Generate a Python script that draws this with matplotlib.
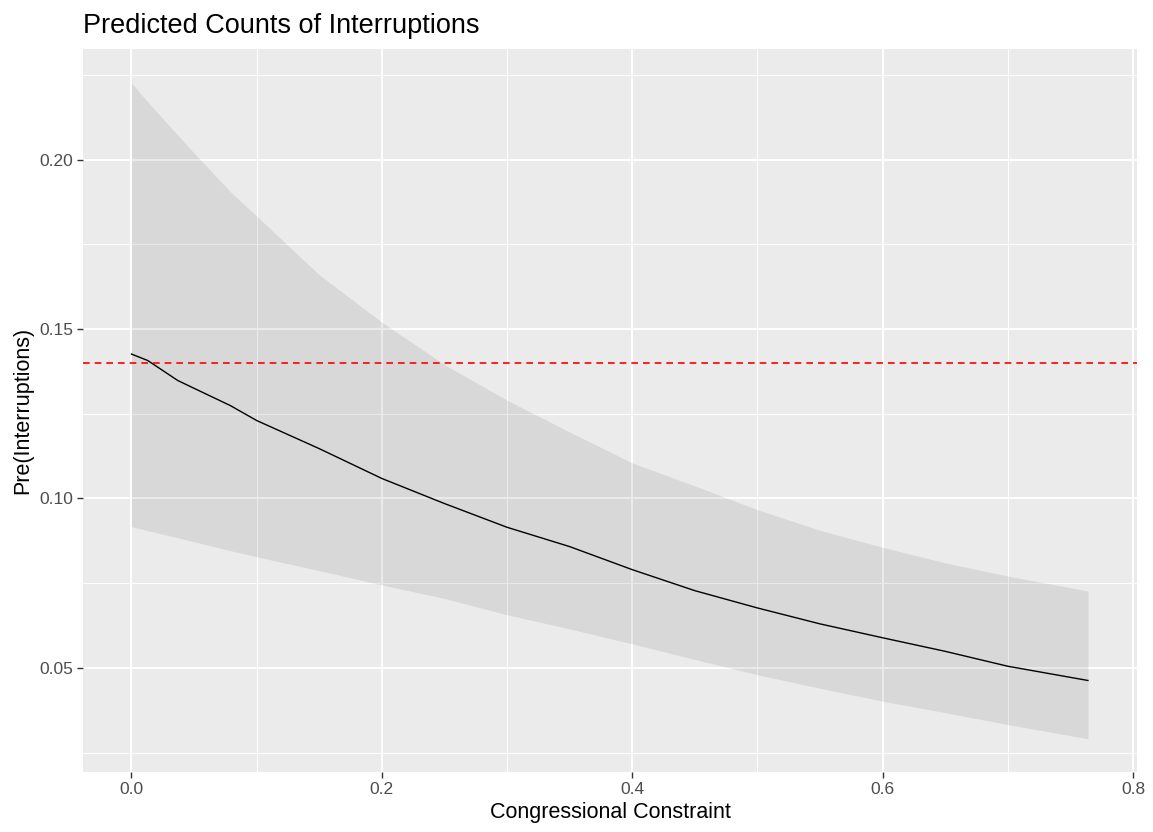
import matplotlib
matplotlib.use("Agg")
import matplotlib.pyplot as plt
import numpy as np

plt.rcParams['font.family'] = ['Liberation Sans', 'DejaVu Sans']

# predicted counts along congressional constraint, with confidence band
constraint = [0.0, 0.013, 0.037, 0.05, 0.079, 0.1, 0.15, 0.2, 0.25, 0.3, 0.35,
              0.4, 0.45, 0.5, 0.55, 0.6, 0.65, 0.7, 0.764]
fit = [0.1426, 0.1407, 0.1348, 0.1325, 0.1274, 0.1230, 0.1147, 0.1059, 0.0985,
       0.0915, 0.0858, 0.0790, 0.0728, 0.0677, 0.0630, 0.0589, 0.0549, 0.0505, 0.0463]
upper = [0.2226, 0.2170, 0.2072, 0.2019, 0.1905, 0.1833, 0.1660, 0.1520, 0.1395,
         0.1290, 0.1196, 0.1105, 0.1037, 0.0967, 0.0906, 0.0856, 0.0810, 0.0771, 0.0727]
lower = [0.0917, 0.0905, 0.0884, 0.0872, 0.0846, 0.0828, 0.0787, 0.0745, 0.0705,
         0.0657, 0.0615, 0.0571, 0.0525, 0.0480, 0.0440, 0.0402, 0.0368, 0.0333, 0.0291]
baseline = 0.14

x_ticks = [0.0, 0.2, 0.4, 0.6, 0.8]
y_ticks = [0.05, 0.10, 0.15, 0.20]

fig = plt.figure(figsize=(11.53, 8.32), dpi=100)
ax = fig.add_axes([83/1153, 60/832, (1137-83)/1153, (772-49)/832])

ax.set_facecolor('#EBEBEB')
for s in ax.spines.values():
    s.set_visible(False)

ax.fill_between(constraint, lower, upper, color='black', alpha=0.08, linewidth=0, zorder=3)
ax.plot(constraint, fit, color='black', lw=1.0, zorder=4)
ax.axhline(baseline, color='red', lw=1.2, ls=(0, (4, 3)), zorder=4)

ax.set_xlim(-0.0387, 0.8032)
ax.set_ylim(0.0193, 0.2326)

ax.set_xticks(x_ticks)
ax.set_xticklabels(['%.1f' % v for v in x_ticks])
ax.set_yticks(y_ticks)
ax.set_yticklabels(['%.2f' % v for v in y_ticks])
ax.set_xticks([0.1, 0.3, 0.5, 0.7], minor=True)
ax.set_yticks([0.025, 0.075, 0.125, 0.175, 0.225], minor=True)

ax.grid(which='major', color='white', lw=1.4, zorder=1)
ax.grid(which='minor', color='white', lw=0.7, zorder=1)
ax.set_axisbelow(True)

ax.tick_params(which='major', length=4, width=1.0, color='#333333',
               labelcolor='#4D4D4D', labelsize=12.5, pad=3)
ax.tick_params(which='minor', length=0)

ax.set_xlabel('Congressional Constraint', fontsize=15.5, color='black', labelpad=4)
ax.set_ylabel('Pre(Interruptions)', fontsize=15.5, color='black', labelpad=4)

fig.text(83/1153, (832-33)/832, 'Predicted Counts of Interruptions',
         fontsize=19.5, color='black', ha='left', va='baseline')

fig.savefig('out.png', dpi=100)
